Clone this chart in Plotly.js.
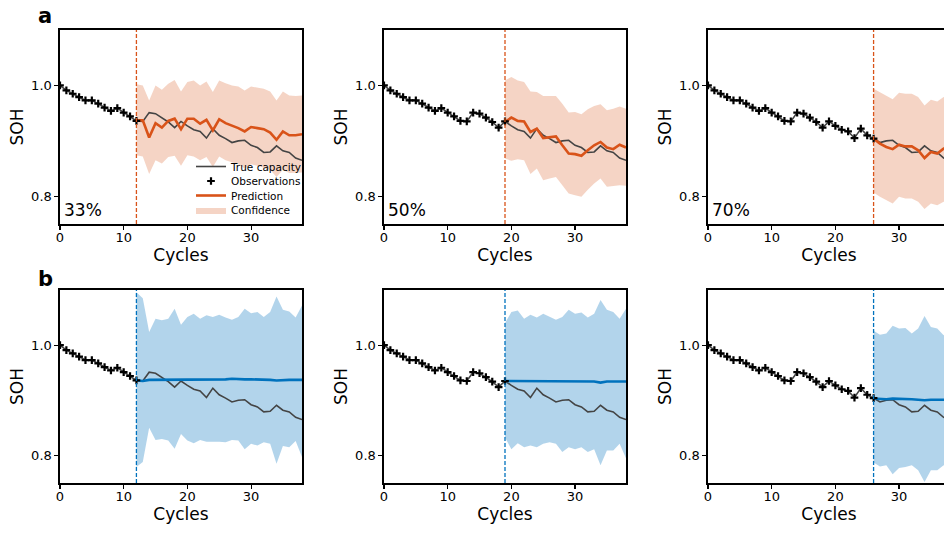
<!DOCTYPE html>
<html>
<head>
<meta charset="utf-8">
<script src="https://cdn.plot.ly/plotly-3.0.1.min.js"></script>
<style>
html,body{margin:0;padding:0;overflow:hidden;background:#fff;}
#chart{width:960px;height:533px;}
</style>
</head>
<body>
<div id="chart"></div>
<script>
// ---------- data ----------
const cycles = [0,1,2,3,4,5,6,7,8,9,10,11,12,13,14,15,16,17,18,19,20,21,22,23,24,25,26,27,28,29,30,31,32,33,34,35,36,37,38];
const trueCap = [1.000,0.991,0.985,0.979,0.973,0.973,0.967,0.960,0.954,0.959,0.951,0.944,0.936,0.935,0.951,0.949,0.942,0.934,0.924,0.935,0.927,0.920,0.917,0.905,0.922,0.910,0.904,0.897,0.900,0.901,0.892,0.888,0.879,0.880,0.891,0.882,0.879,0.869,0.865];
const obsEnd = [12, 19, 26];
const obsLabels = ['33%', '50%', '70%'];
const rowLabels = ['a', 'b'];

// row a (orange model)
const predA1 = [0.937,0.937,0.906,0.932,0.924,0.936,0.940,0.921,0.940,0.940,0.931,0.938,0.919,0.939,0.932,0.928,0.923,0.917,0.925,0.923,0.921,0.915,0.902,0.917,0.910,0.910,0.912];
const upA1   = [1.002,1.000,0.973,1.000,0.992,1.003,1.010,0.989,1.006,1.009,1.000,1.007,0.988,1.009,1.004,1.000,0.998,0.991,0.998,0.996,0.994,0.989,0.973,0.989,0.982,0.981,0.982];
const loA1   = [0.874,0.872,0.840,0.865,0.859,0.871,0.873,0.855,0.874,0.872,0.865,0.871,0.853,0.872,0.865,0.862,0.858,0.850,0.858,0.855,0.852,0.848,0.835,0.848,0.842,0.842,0.843];
const predA2 = [0.934,0.942,0.936,0.935,0.916,0.922,0.905,0.906,0.908,0.892,0.877,0.876,0.873,0.883,0.892,0.898,0.888,0.885,0.893,0.888];
const upA2   = [1.009,1.015,1.009,1.006,0.989,0.988,0.981,0.981,0.981,0.967,0.951,0.952,0.948,0.957,0.963,0.966,0.955,0.958,0.962,0.958];
const loA2   = [0.868,0.864,0.867,0.865,0.840,0.850,0.829,0.832,0.835,0.820,0.805,0.802,0.799,0.812,0.823,0.832,0.817,0.818,0.820,0.819];
const predA3 = [0.904,0.895,0.889,0.885,0.893,0.890,0.890,0.883,0.869,0.880,0.877,0.886,0.885];
const upA3   = [0.994,0.988,0.982,0.975,0.987,0.985,0.985,0.979,0.964,0.974,0.971,0.979,0.978];
const loA3   = [0.807,0.799,0.793,0.787,0.799,0.796,0.796,0.790,0.777,0.787,0.784,0.790,0.790];

// row b (blue model)
const predB1 = [0.936,0.935,0.937,0.937,0.937,0.937,0.938,0.938,0.938,0.938,0.938,0.938,0.937,0.938,0.938,0.939,0.938,0.938,0.938,0.938,0.937,0.937,0.936,0.937,0.937,0.937,0.937];
const upB1   = [1.096,1.085,1.024,1.048,1.045,1.048,1.066,1.037,1.051,1.057,1.048,1.054,1.051,1.055,1.050,1.046,1.051,1.066,1.058,1.060,1.051,1.060,1.088,1.064,1.061,1.050,1.072];
const loB1   = [0.779,0.788,0.850,0.828,0.830,0.827,0.812,0.839,0.827,0.822,0.828,0.825,0.825,0.825,0.824,0.828,0.827,0.811,0.821,0.818,0.824,0.821,0.785,0.817,0.815,0.826,0.797];
const predB2 = [0.935,0.935,0.935,0.935,0.934,0.935,0.935,0.935,0.935,0.935,0.935,0.935,0.935,0.934,0.934,0.932,0.934,0.934,0.934,0.934];
const upB2   = [1.040,1.060,1.063,1.048,1.055,1.050,1.057,1.051,1.046,1.051,1.064,1.057,1.059,1.050,1.057,1.082,1.064,1.060,1.048,1.066];
const loB2   = [0.833,0.811,0.822,0.815,0.818,0.815,0.821,0.824,0.821,0.806,0.815,0.811,0.815,0.806,0.811,0.782,0.809,0.809,0.821,0.795];
const predB3 = [0.903,0.902,0.902,0.903,0.903,0.903,0.902,0.901,0.900,0.901,0.901,0.901,0.901];
const upB3   = [1.026,1.019,1.021,1.035,1.030,1.031,1.021,1.030,1.053,1.033,1.030,1.018,1.030];
const loB3   = [0.787,0.780,0.782,0.766,0.777,0.779,0.782,0.773,0.752,0.773,0.773,0.782,0.775];

// ---------- styling ----------
const W = 960, H = 533;
const FONT = 'DejaVu Sans, sans-serif';
const ORANGE = '#d95319', ORANGE_FILL = 'rgba(217,83,25,0.25)';
const BLUE = '#0072bd', BLUE_FILL = 'rgba(0,114,189,0.30)';
const colLeft = [60, 384, 708];
const plotW = 242;
const rowTop = [30, 290];
const rowBot = [224, 483];

const panels = [
  {row:0, col:0, pred:predA1, up:upA1, lo:loA1},
  {row:0, col:1, pred:predA2, up:upA2, lo:loA2},
  {row:0, col:2, pred:predA3, up:upA3, lo:loA3},
  {row:1, col:0, pred:predB1, up:upB1, lo:loB1},
  {row:1, col:1, pred:predB2, up:upB2, lo:loB2},
  {row:1, col:2, pred:predB3, up:upB3, lo:loB3}
];

const traces = [];
const layout = {
  width: W, height: H,
  margin: {l:0, r:0, t:0, b:0},
  paper_bgcolor: '#fff', plot_bgcolor: '#fff',
  font: {family: FONT, color: '#000'},
  showlegend: true,
  shapes: [], annotations: []
};

// one single-entry legend per item, to get matplotlib-like tight spacing
const legTops = [152, 166.5, 181, 195.5];
['legend', 'legend2', 'legend3', 'legend4'].forEach((k, j) => {
  layout[k] = {
    x: 191 / W, y: 1 - legTops[j] / H, xanchor: 'left', yanchor: 'top',
    bgcolor: 'rgba(0,0,0,0)', borderwidth: 0,
    font: {family: FONT, size: 10.5, color: '#000'},
    itemwidth: 30
  };
});

panels.forEach((p, i) => {
  const n = i + 1;
  const xa = n === 1 ? 'x' : 'x' + n;
  const ya = n === 1 ? 'y' : 'y' + n;
  const end = obsEnd[p.col];
  const lineCol = p.row === 0 ? ORANGE : BLUE;
  const fillCol = p.row === 0 ? ORANGE_FILL : BLUE_FILL;
  const showLeg = (i === 0);
  const fc = cycles.slice(end);

  // confidence band
  traces.push({
    x: fc.concat(fc.slice().reverse()),
    y: p.up.concat(p.lo.slice().reverse()),
    xaxis: xa, yaxis: ya, type: 'scatter', mode: 'lines',
    fill: 'toself', fillcolor: fillCol, line: {width: 0, color: fillCol},
    name: 'Confidence', showlegend: showLeg, legend: 'legend4', hoverinfo: 'skip'
  });
  // true capacity
  traces.push({
    x: cycles, y: trueCap, xaxis: xa, yaxis: ya, type: 'scatter', mode: 'lines',
    line: {color: '#444444', width: 1.6},
    name: 'True capacity', showlegend: showLeg, legend: 'legend'
  });
  // prediction
  traces.push({
    x: fc, y: p.pred, xaxis: xa, yaxis: ya, type: 'scatter', mode: 'lines',
    line: {color: lineCol, width: 2.6},
    name: 'Prediction', showlegend: showLeg, legend: 'legend3'
  });
  // observations
  traces.push({
    x: cycles.slice(0, end + 1), y: trueCap.slice(0, end + 1),
    xaxis: xa, yaxis: ya, type: 'scatter', mode: 'markers',
    marker: {symbol: 'cross-thin', size: 5.5, color: '#000', line: {color: '#000', width: 2.2}},
    name: 'Observations', showlegend: showLeg, legend: 'legend2'
  });

  const x0 = colLeft[p.col], x1 = x0 + plotW;
  const axBase = {
    showline: true, mirror: true, linecolor: '#000', linewidth: 1.6,
    ticks: 'outside', ticklen: 4, tickwidth: 1.1, tickcolor: '#000',
    showgrid: false, zeroline: false,
    tickfont: {family: FONT, size: 13, color: '#000'}
  };
  layout['xaxis' + (n === 1 ? '' : n)] = Object.assign({}, axBase, {
    domain: [x0 / W, x1 / W], anchor: ya, range: [0, 38],
    tickvals: [0, 10, 20, 30], ticktext: ['0', '10', '20', '30'],
    ticklabelstandoff: -3,
    title: {text: 'Cycles', font: {family: FONT, size: 17, color: '#000'}, standoff: 0}
  });
  layout['yaxis' + (n === 1 ? '' : n)] = Object.assign({}, axBase, {
    domain: [1 - rowBot[p.row] / H, 1 - rowTop[p.row] / H], anchor: xa, range: [0.75, 1.1],
    tickvals: [0.8, 1.0], ticktext: ['0.8', '1.0'],
    title: {text: 'SOH', font: {family: FONT, size: 17, color: '#000'}, standoff: 3}
  });

  // observation cut-off line
  layout.shapes.push({
    type: 'line', xref: xa, yref: ya + ' domain', x0: end, x1: end, y0: 0, y1: 1,
    line: {color: lineCol, width: 1.3, dash: '4px,2px'}, layer: 'above'
  });

  if (p.row === 0) {
    layout.annotations.push({
      xref: xa + ' domain', yref: ya + ' domain', x: 0.01, y: 0.01,
      xanchor: 'left', yanchor: 'bottom', showarrow: false,
      text: obsLabels[p.col], font: {family: FONT, size: 17, color: '#000'}
    });
  }
});

layout.annotations.push({
  xref: 'paper', yref: 'paper', x: 36 / W, y: 1 - 2 / H, xanchor: 'left', yanchor: 'top',
  showarrow: false, text: '<b>' + rowLabels[0] + '</b>', font: {family: FONT, size: 21, color: '#000'}
});
layout.annotations.push({
  xref: 'paper', yref: 'paper', x: 36 / W, y: 1 - 265 / H, xanchor: 'left', yanchor: 'top',
  showarrow: false, text: '<b>' + rowLabels[1] + '</b>', font: {family: FONT, size: 21, color: '#000'}
});

Plotly.newPlot('chart', traces, layout, {staticPlot: true, displayModeBar: false});
</script>
</body>
</html>
